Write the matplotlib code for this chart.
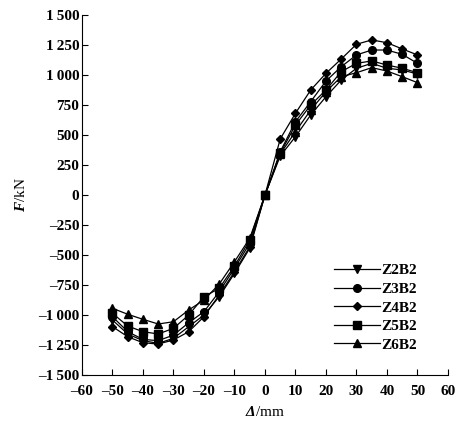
import matplotlib
matplotlib.use("Agg")
import matplotlib.pyplot as plt

plt.rcParams['font.family'] = ['Liberation Serif', 'DejaVu Serif']
plt.rcParams['font.size'] = 11
plt.rcParams['font.weight'] = 'bold'
plt.rcParams['mathtext.fontset'] = 'custom'
plt.rcParams['mathtext.it'] = 'Liberation Serif:italic:bold'
plt.rcParams['mathtext.rm'] = 'Liberation Serif:bold'
# sf slot used for an italic capital Greek letter (mathtext keeps Greek capitals upright in it)
plt.rcParams['mathtext.sf'] = 'Liberation Serif:italic:bold'

# displacement (mm)
disp = [-50, -45, -40, -35, -30, -25, -20, -15, -10, -5, 0,
        5, 10, 15, 20, 25, 30, 35, 40, 45, 50]

# load (kN)
z2b2 = [-1042, -1158, -1214, -1236, -1194, -1097, -1000, -847, -653, -444, 0,
        325, 486, 667, 819, 958, 1056, 1097, 1056, 1042, 1008]
z3b2 = [-1014, -1139, -1203, -1214, -1167, -1064, -972, -806, -611, -403, 0,
        361, 611, 778, 950, 1069, 1167, 1208, 1208, 1172, 1097]
z4b2 = [-1097, -1181, -1231, -1242, -1208, -1139, -1014, -833, -639, -431, 0,
        467, 681, 875, 1014, 1133, 1256, 1292, 1269, 1217, 1167]
z5b2 = [-986, -1092, -1139, -1158, -1111, -1000, -847, -778, -592, -375, 0,
        347, 583, 750, 875, 1028, 1097, 1117, 1083, 1056, 1019]
z6b2 = [-944, -994, -1036, -1075, -1056, -958, -875, -742, -556, -361, 0,
        342, 528, 708, 861, 986, 1019, 1061, 1033, 986, 936]

series = [("Z2B2", z2b2, "v"), ("Z3B2", z3b2, "o"), ("Z4B2", z4b2, "D"),
          ("Z5B2", z5b2, "s"), ("Z6B2", z6b2, "^")]

xticks = [-60, -50, -40, -30, -20, -10, 0, 10, 20, 30, 40, 50, 60]
xticklabels = ["\u201360", "\u201350", "\u201340", "\u201330", "\u201320", "\u201310",
               "0", "10", "20", "30", "40", "50", "60"]
yticks = [-1500, -1250, -1000, -750, -500, -250, 0, 250, 500, 750, 1000, 1250, 1500]
yticklabels = ["\u20131\u2009500", "\u20131\u2009250", "\u20131\u2009000", "\u2013750",
               "\u2013500", "\u2013250", "0", "250", "500", "750",
               "1\u2009000", "1\u2009250", "1\u2009500"]

fig = plt.figure(figsize=(4.59, 4.28), dpi=100)
ax = fig.add_axes([0.1786, 0.1238, 0.7974, 0.8412])

for name, vals, mk in series:
    ms = 4.5 if mk == "D" else 5.5
    ax.plot(disp, vals, color="black", lw=0.9, marker=mk, ms=ms, label=name)

ax.set_xlim(-60, 60)
ax.set_ylim(-1500, 1500)
ax.set_xticks(xticks)
ax.set_xticklabels(xticklabels)
ax.set_yticks(yticks)
ax.set_yticklabels(yticklabels)
ax.tick_params(direction="in", length=4, width=0.8)
ax.tick_params(axis="x", pad=7)
ax.tick_params(axis="y", pad=2)
ax.spines["top"].set_visible(False)
ax.spines["right"].set_visible(False)

ax.set_xlabel("$\\mathsf{\u0394}$/mm", labelpad=5)
ax.set_ylabel(r"$F$/kN", labelpad=7)

ax.legend(loc="lower left", bbox_to_anchor=(0.66, 0.035), frameon=False,
          handlelength=3.0, handletextpad=0.1, labelspacing=0.32,
          borderpad=0.2, fontsize=11)

fig.savefig("out.png", dpi=100)
